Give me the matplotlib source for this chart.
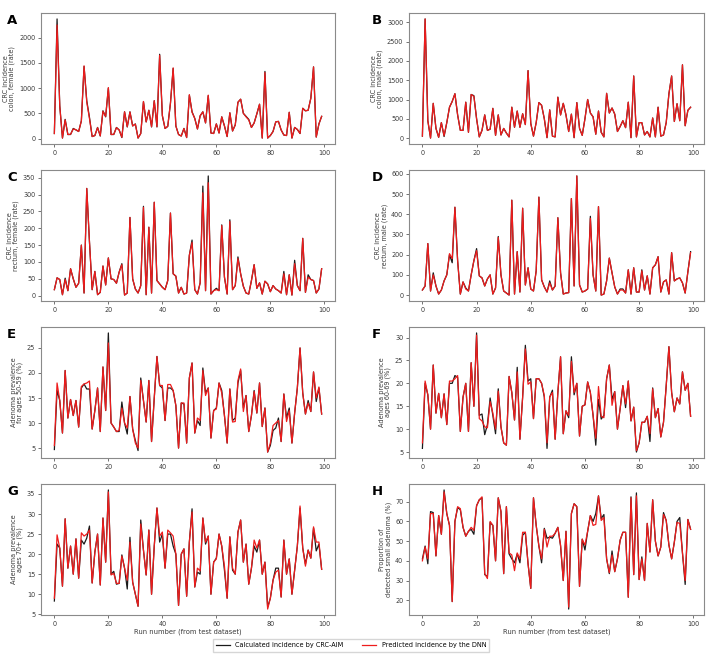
import matplotlib
matplotlib.use("Agg")
import matplotlib.pyplot as plt
import numpy as np

runs = list(range(100))

# Panel A: CRC incidence colon, female (rate)
a_calc = [100, 2370, 650, 10, 380, 80, 80, 200, 170, 140,
          350, 1430, 750, 420, 40, 60, 220, 50, 550, 430,
          1000, 80, 80, 220, 170, 20, 530, 230, 530, 250,
          290, 10, 100, 730, 330, 560, 230, 750, 230, 1670,
          450, 200, 240, 700, 1390, 250, 80, 50, 200, 20,
          860, 530, 400, 190, 450, 530, 310, 850, 110, 100,
          290, 110, 430, 250, 40, 510, 150, 270, 720, 780,
          500, 440, 380, 220, 310, 490, 680, 10, 1330, 10,
          60, 140, 330, 340, 170, 70, 60, 520, 10, 220,
          180, 100, 600, 550, 560, 800, 1420, 30, 290, 440]
a_pred = [100, 2250, 640, 10, 370, 80, 85, 190, 175, 140,
          350, 1440, 720, 400, 40, 60, 215, 55, 540, 440,
          1010, 80, 85, 215, 170, 25, 530, 235, 525, 250,
          285, 10, 100, 735, 330, 560, 235, 750, 235, 1650,
          460, 200, 245, 700, 1400, 250, 80, 50, 200, 20,
          870, 520, 400, 190, 450, 530, 310, 860, 110, 100,
          290, 110, 430, 250, 40, 510, 150, 270, 720, 780,
          500, 430, 370, 220, 310, 490, 680, 10, 1310, 10,
          60, 140, 330, 340, 170, 70, 60, 520, 10, 220,
          180, 100, 600, 550, 560, 800, 1420, 30, 290, 440]

# Panel B: CRC incidence colon, male (rate)
b_calc = [50, 3090, 450, 0, 900, 250, 20, 400, 40, 400,
          800, 950, 1150, 600, 200, 200, 930, 150, 1130, 1100,
          500, 30, 200, 600, 200, 230, 770, 70, 600, 80,
          250, 130, 30, 800, 280, 700, 280, 630, 350, 1750,
          380, 50, 400, 920, 850, 500, 10, 730, 50, 30,
          1060, 600, 900, 600, 170, 620, 10, 920, 250, 70,
          500, 1000, 650, 550, 100, 700, 150, 30, 1160, 650,
          780, 620, 170, 300, 450, 270, 930, 10, 1610, 30,
          400, 400, 80, 170, 30, 520, 30, 800, 50, 80,
          400, 1150, 1610, 430, 890, 450, 1900, 320, 720, 800]
b_pred = [50, 3090, 450, 0, 900, 250, 20, 400, 60, 400,
          800, 950, 1150, 600, 200, 200, 930, 150, 1130, 1080,
          500, 30, 200, 600, 200, 230, 770, 70, 600, 80,
          250, 130, 30, 800, 280, 700, 280, 630, 350, 1750,
          380, 50, 400, 920, 850, 500, 10, 730, 50, 30,
          1060, 600, 900, 600, 170, 620, 10, 920, 250, 70,
          500, 1000, 650, 550, 100, 700, 150, 30, 1160, 650,
          780, 620, 170, 300, 450, 270, 930, 10, 1610, 30,
          400, 400, 80, 170, 30, 520, 30, 800, 50, 80,
          400, 1150, 1610, 430, 890, 450, 1900, 320, 720, 800]

# Panel C: CRC incidence rectum, female (rate)
c_calc = [18, 53, 48, 3, 52, 15, 80, 50, 25, 37,
          150, 8, 318, 160, 18, 72, 3, 10, 88, 32,
          112, 50, 48, 37, 70, 95, 2, 8, 232, 50,
          20, 8, 30, 265, 3, 203, 8, 277, 45, 35,
          25, 18, 45, 245, 65, 58, 8, 25, 5, 8,
          120, 165, 18, 5, 38, 325, 15, 355, 5, 15,
          22, 15, 210, 55, 5, 225, 18, 30, 115, 65,
          28, 8, 5, 45, 92, 22, 38, 5, 43, 35,
          12, 30, 20, 15, 8, 72, 3, 62, 2, 105,
          30, 15, 170, 10, 62, 48, 45, 8, 20, 80]
c_pred = [18, 53, 48, 3, 48, 15, 80, 50, 25, 37,
          150, 8, 318, 160, 18, 72, 3, 10, 88, 32,
          112, 50, 48, 37, 70, 92, 2, 8, 232, 50,
          20, 8, 30, 262, 3, 203, 8, 277, 45, 35,
          25, 18, 45, 245, 65, 58, 8, 25, 5, 8,
          120, 158, 18, 5, 38, 305, 15, 335, 5, 15,
          18, 15, 208, 55, 5, 220, 18, 30, 110, 65,
          28, 8, 5, 45, 92, 22, 38, 5, 43, 35,
          12, 30, 20, 15, 8, 65, 3, 62, 2, 95,
          30, 15, 170, 10, 55, 48, 45, 8, 20, 80]

# Panel D: CRC incidence rectum, male (rate)
d_calc = [25, 45, 255, 20, 110, 45, 5, 25, 70, 100,
          200, 160, 435, 170, 5, 65, 35, 20, 100, 170,
          230, 95, 85, 45, 80, 100, 5, 35, 290, 100,
          20, 10, 0, 470, 5, 215, 15, 430, 50, 135,
          30, 20, 120, 485, 75, 40, 15, 70, 25, 45,
          383, 110, 5, 10, 12, 478, 45, 590, 50, 15,
          20, 30, 390, 100, 20, 438, 0, 5, 70, 183,
          110, 40, 5, 30, 30, 10, 125, 5, 135, 15,
          15, 125, 25, 95, 5, 135, 150, 190, 15, 65,
          75, 5, 210, 70, 80, 85, 60, 10, 115, 215]
d_pred = [25, 45, 255, 20, 100, 45, 5, 25, 70, 100,
          205, 180, 435, 170, 5, 65, 30, 20, 100, 170,
          220, 95, 85, 45, 80, 100, 5, 35, 285, 100,
          20, 10, 0, 470, 5, 215, 15, 430, 50, 135,
          30, 20, 120, 485, 75, 40, 15, 60, 25, 45,
          383, 110, 5, 10, 12, 478, 45, 590, 50, 15,
          20, 30, 380, 100, 20, 438, 0, 5, 70, 183,
          110, 40, 5, 25, 25, 10, 125, 5, 135, 15,
          15, 120, 25, 95, 5, 135, 150, 190, 15, 65,
          75, 5, 210, 70, 80, 85, 60, 10, 115, 210]

# Panel E: Adenoma prevalence for ages 50-59 (%)
e_calc = [4.7, 16.5, 14.5, 8.0, 20.5, 11.0, 14.7, 11.5, 14.5, 9.2,
          17.0, 17.8, 16.8, 16.8, 8.8, 12.5, 17.0, 8.3, 21.2, 12.5,
          28.0, 10.0, 9.2, 8.3, 8.3, 14.2, 10.0, 7.8, 15.3, 8.8,
          6.5, 4.5, 19.0, 14.5, 10.2, 18.5, 6.3, 15.0, 23.3, 17.5,
          17.0, 10.5, 17.0, 17.0, 16.5, 13.5, 5.0, 14.0, 13.8, 6.0,
          19.0, 22.0, 8.0, 10.5, 9.5, 21.0, 16.0, 17.0, 7.0, 12.5,
          13.0, 18.0, 16.5, 11.5, 6.0, 16.8, 10.5, 11.0, 18.0, 20.5,
          13.0, 15.5, 8.3, 11.5, 16.5, 12.0, 18.0, 9.3, 13.0, 4.2,
          5.5, 8.5, 9.0, 11.0, 6.3, 15.8, 11.0, 13.0, 6.0, 12.0,
          17.0, 25.0, 16.0, 11.8, 14.5, 12.3, 20.2, 14.3, 17.0, 11.8]
e_pred = [5.5, 18.0, 14.5, 8.0, 20.5, 11.0, 14.7, 11.5, 14.5, 9.2,
          17.3, 17.8, 18.0, 18.4, 8.8, 12.5, 17.0, 8.3, 21.2, 12.5,
          26.0, 10.0, 9.2, 8.3, 8.5, 13.0, 10.0, 9.0, 15.3, 8.8,
          6.0, 5.0, 18.5, 14.5, 10.2, 18.5, 6.3, 15.0, 23.3, 17.5,
          17.5, 10.5, 17.7, 17.7, 16.5, 13.5, 5.0, 14.0, 14.0, 6.0,
          19.0, 22.0, 8.0, 11.0, 10.5, 20.5, 15.5, 17.0, 7.0, 12.5,
          12.8, 18.0, 16.0, 11.5, 6.0, 16.8, 10.2, 10.3, 18.5, 20.8,
          12.3, 15.5, 8.3, 11.5, 16.3, 12.0, 18.0, 9.3, 13.0, 4.2,
          6.0, 9.5, 10.0, 10.5, 6.3, 15.8, 10.3, 12.5, 6.0, 12.0,
          17.0, 25.0, 16.0, 11.8, 14.0, 12.3, 20.2, 15.0, 17.2, 11.8]

# Panel F: Adenoma prevalence ages 60-69 (%)
f_calc = [5.8, 20.0, 17.5, 10.0, 24.0, 13.5, 17.8, 12.5, 17.7, 11.0,
          20.0, 20.0, 21.7, 21.3, 9.5, 17.0, 20.0, 9.5, 24.5, 15.0,
          31.0, 13.0, 13.3, 8.8, 11.0, 16.8, 13.0, 9.0, 18.8, 10.5,
          7.0, 6.5, 21.5, 18.0, 12.0, 23.5, 7.8, 17.0, 28.3, 20.5,
          21.0, 12.3, 21.0, 21.0, 20.0, 17.0, 5.8, 17.0, 18.5, 7.8,
          18.0, 25.8, 9.0, 14.0, 12.5, 25.8, 17.5, 20.0, 8.5, 15.0,
          15.3, 20.3, 18.0, 13.0, 6.5, 16.5, 12.2, 13.0, 21.0, 24.0,
          16.5, 18.2, 10.0, 14.5, 19.5, 14.7, 20.5, 11.8, 14.8, 5.0,
          7.0, 11.5, 11.5, 12.8, 7.3, 19.0, 12.5, 14.5, 8.3, 11.5,
          19.5, 28.0, 18.0, 13.8, 16.8, 15.5, 22.5, 18.5, 20.0, 12.8]
f_pred = [7.0, 20.5, 17.5, 10.0, 24.0, 13.5, 17.8, 12.5, 17.7, 11.0,
          20.5, 20.5, 21.0, 21.7, 9.5, 17.0, 20.0, 9.5, 24.5, 15.0,
          30.5, 12.3, 11.8, 10.5, 10.3, 16.0, 13.5, 10.0, 18.3, 10.5,
          7.0, 6.5, 21.5, 18.0, 12.0, 22.5, 7.8, 17.0, 27.5, 19.8,
          20.3, 12.3, 21.0, 21.0, 20.0, 17.3, 7.0, 17.0, 18.0, 7.8,
          18.0, 25.8, 9.0, 14.0, 13.0, 24.8, 18.0, 20.0, 8.5, 15.0,
          15.3, 20.3, 18.0, 13.0, 8.0, 19.3, 12.8, 12.5, 21.0, 24.0,
          15.2, 18.2, 10.0, 14.5, 19.5, 15.5, 20.5, 11.8, 14.8, 5.3,
          7.0, 11.5, 11.5, 12.8, 9.0, 18.8, 12.5, 14.5, 8.3, 11.5,
          19.5, 28.0, 18.0, 13.8, 16.8, 15.5, 22.5, 18.5, 20.0, 12.8]

# Panel G: Adenoma prevalence ages 70+ (%)
g_calc = [8.3, 22.5, 21.5, 12.0, 28.8, 16.5, 22.0, 15.0, 23.8, 14.0,
          23.5, 22.5, 24.0, 27.0, 12.8, 20.5, 25.0, 12.3, 29.0, 18.0,
          36.0, 15.0, 15.7, 12.5, 12.7, 19.8, 16.5, 11.3, 24.2, 13.0,
          10.0, 7.0, 28.5, 21.0, 14.8, 26.0, 10.0, 22.0, 31.5, 23.0,
          25.0, 16.5, 25.0, 25.0, 22.0, 20.0, 7.2, 20.0, 21.3, 9.5,
          23.0, 31.3, 11.8, 15.5, 15.0, 29.0, 22.5, 24.5, 10.0, 18.0,
          19.0, 25.0, 22.0, 16.0, 9.0, 24.3, 16.0, 15.0, 25.5, 28.5,
          18.0, 22.5, 12.5, 16.5, 22.0, 20.5, 23.5, 15.0, 18.0, 6.8,
          9.0, 13.5, 16.5, 16.5, 9.3, 23.5, 15.0, 18.8, 10.0, 16.0,
          22.0, 31.5, 21.5, 17.5, 21.0, 19.0, 26.5, 20.8, 22.5, 16.2]
g_pred = [9.0, 24.8, 21.5, 12.0, 28.8, 16.5, 22.0, 15.0, 23.8, 14.0,
          25.3, 24.5, 25.0, 26.0, 12.8, 20.5, 25.0, 12.3, 29.0, 18.0,
          35.5, 14.8, 15.2, 12.7, 12.7, 19.5, 16.5, 13.5, 23.0, 13.0,
          10.0, 7.0, 27.5, 21.0, 14.8, 26.0, 10.0, 22.0, 31.5, 24.5,
          25.5, 16.5, 26.0, 25.3, 24.5, 20.0, 7.2, 20.0, 21.3, 9.5,
          23.0, 30.5, 11.8, 16.5, 15.8, 29.0, 23.0, 24.5, 10.0, 18.0,
          18.8, 25.0, 22.0, 17.0, 9.0, 24.3, 16.5, 15.0, 25.5, 28.5,
          18.0, 22.5, 12.5, 16.5, 23.5, 21.5, 23.5, 15.0, 18.0, 6.3,
          9.0, 13.5, 15.5, 16.0, 9.3, 23.5, 15.0, 18.8, 10.0, 16.0,
          22.0, 32.0, 21.5, 17.0, 21.0, 19.0, 26.8, 23.0, 23.0, 16.2]

# Panel H: Proportion of detected small adenoma (%)
h_calc = [41.0, 47.5, 38.5, 65.0, 64.5, 42.5, 63.0, 53.5, 76.0, 64.0,
          58.0, 19.3, 60.0, 67.0, 66.0, 57.0, 52.5, 55.0, 56.0, 53.5,
          68.0, 71.0, 72.0, 33.0, 32.0, 59.5, 58.0, 40.0, 72.0, 65.0,
          33.5, 67.5, 43.5, 41.0, 39.0, 43.5, 39.0, 53.0, 54.5, 38.5,
          26.0, 72.0, 58.0, 47.5, 39.0, 56.5, 51.5, 52.0, 51.5, 54.0,
          57.0, 47.5, 30.0, 55.0, 15.5, 64.0, 69.0, 67.5, 27.0, 51.0,
          45.5, 55.0, 63.0, 60.0, 64.0, 73.0, 61.5, 63.5, 41.0, 33.5,
          45.0, 34.5, 41.0, 50.5, 54.5, 54.5, 21.5, 72.5, 33.0, 74.5,
          30.5, 42.0, 30.0, 59.0, 44.5, 71.0, 50.0, 42.5, 47.0, 64.5,
          60.5, 48.0, 41.0, 49.5, 60.0, 62.0, 44.0, 28.0, 61.0, 56.0]
h_pred = [40.0, 47.0, 41.0, 64.0, 64.0, 42.5, 63.0, 53.5, 75.0, 64.0,
          58.0, 19.3, 60.0, 67.5, 66.5, 57.0, 52.5, 55.0, 57.0, 55.5,
          68.0, 71.0, 72.5, 33.5, 31.0, 60.0, 58.0, 40.0, 72.0, 65.0,
          33.5, 67.5, 44.0, 43.0, 35.0, 44.0, 41.0, 54.5, 54.5, 38.5,
          26.0, 72.0, 58.0, 47.5, 41.0, 56.0, 47.0, 52.5, 52.5, 54.0,
          57.0, 48.0, 30.0, 55.0, 16.5, 64.0, 69.0, 67.5, 27.0, 51.0,
          48.0, 55.0, 63.0, 58.0, 58.5, 73.0, 60.5, 62.0, 41.0, 34.0,
          43.0, 34.5, 41.0, 50.5, 54.5, 54.5, 21.5, 72.0, 33.0, 73.0,
          30.5, 41.0, 30.0, 59.0, 44.5, 71.0, 50.0, 42.5, 47.0, 63.5,
          60.5, 48.0, 41.0, 49.5, 59.5, 59.0, 44.0, 30.0, 61.0, 56.0]

panel_letters = ["A", "B", "C", "D", "E", "F", "G", "H"]
ylabels = ["CRC incidence\ncolon, female (rate)",
           "CRC incidence\ncolon, male (rate)",
           "CRC incidence\nrectum, female (rate)",
           "CRC incidence\nrectum, male (rate)",
           "Adenoma prevalence\nfor ages 50-59 (%)",
           "Adenoma prevalence\nages 60-69 (%)",
           "Adenoma prevalence\nages 70+ (%)",
           "Proportion of\ndetected small adenoma (%)"]
calc_series = [a_calc, b_calc, c_calc, d_calc, e_calc, f_calc, g_calc, h_calc]
pred_series = [a_pred, b_pred, c_pred, d_pred, e_pred, f_pred, g_pred, h_pred]
legend_labels = ["Calculated incidence by CRC-AIM", "Predicted incidence by the DNN"]
xlabel = "Run number (from test dataset)"

W, H = 707, 655
fig = plt.figure(figsize=(W / 100, H / 100), dpi=100)

spine_color = "#8a8a8a"
tick_color = "#3a3a3a"
fs = 4.7
lefts = [41, 409]
width_px = [294, 295]
tops = [13, 170, 327, 484]
height_px = 131
letter_x = [7, 372]

for k in range(8):
    r, c = divmod(k, 2)
    l = lefts[c]
    t = tops[r]
    ax = fig.add_axes([l / W, 1 - (t + height_px) / H, width_px[c] / W, height_px / H])
    ax.plot(runs, calc_series[k], color="#1a1a1a", lw=0.9, label=legend_labels[0])
    ax.plot(runs, pred_series[k], color="#ee1c1c", lw=0.9, label=legend_labels[1])
    ax.set_xticks([0, 20, 40, 60, 80, 100])
    ax.tick_params(labelsize=fs, colors=tick_color, length=2.2, width=0.5, pad=2)
    for sp in ax.spines.values():
        sp.set_color(spine_color)
        sp.set_linewidth(0.8)
    ax.set_ylabel(ylabels[k], fontsize=fs, color=tick_color, labelpad=2.5, linespacing=1.0)
    if r == 3:
        ax.set_xlabel(xlabel, fontsize=fs + 0.2, color=tick_color, labelpad=1.5)
    fig.text(letter_x[c] / W, 1 - (t + 1) / H, panel_letters[k], fontsize=9.5,
             fontweight="bold", va="top", ha="left")
    if k == 0:
        handles, labs = ax.get_legend_handles_labels()

fig.legend(handles, labs, loc="center", bbox_to_anchor=(351 / W, 1 - 645.5 / H),
           ncol=2, fontsize=fs, frameon=True, fancybox=False, edgecolor="#cccccc",
           handlelength=2.2, columnspacing=2.8, borderpad=0.5)

fig.savefig("out.png", dpi=100)
